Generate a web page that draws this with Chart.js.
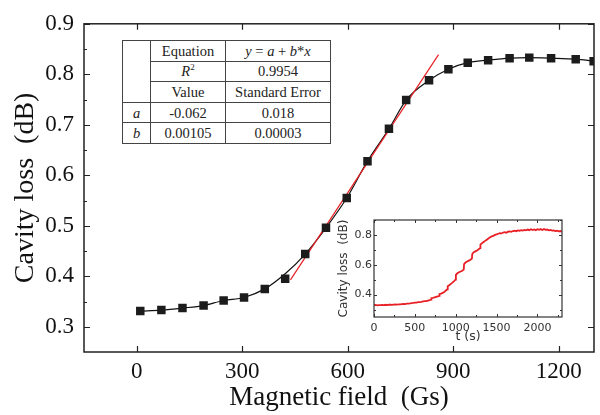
<!DOCTYPE html>
<html>
<head>
<meta charset="utf-8">
<script src="https://cdn.jsdelivr.net/npm/chart.js@4.4.1/dist/chart.umd.min.js"></script>
<style>
  body { margin: 0; background: #fff; }
  #wrap { position: relative; width: 600px; height: 415px; }
  #fit {
    position: absolute; left: 122px; top: 40px; width: 208px;
    border-collapse: collapse; background: #fff; table-layout: fixed;
    font-family: "Liberation Serif", "Times New Roman", serif; font-size: 14.5px; color: #222;
  }
  #fit td { border: 1px solid #444; height: 19.6px; padding: 0; text-align: center; line-height: 18px; white-space: nowrap; }
  #fit sup { font-size: 9px; line-height: 0; }
  #inset { position: absolute; left: 330px; top: 205px; width: 240px; height: 145px; }
</style>
</head>
<body>
<div id="wrap">
  <canvas id="main" width="600" height="415"></canvas>
  <table id="fit">
    <colgroup><col style="width:28px"><col style="width:75px"><col style="width:105px"></colgroup>
    <tr><td rowspan="3"></td><td>Equation</td><td><i>y</i> = <i>a</i> + <i>b</i>*<i>x</i></td></tr>
    <tr><td><i>R</i><sup>2</sup></td><td>0.9954</td></tr>
    <tr><td>Value</td><td>Standard Error</td></tr>
    <tr><td><i>a</i></td><td>-0.062</td><td>0.018</td></tr>
    <tr><td><i>b</i></td><td>0.00105</td><td>0.00003</td></tr>
  </table>
  <div id="inset"><canvas id="insetCanvas" width="240" height="145"></canvas></div>
</div>
<script>
// Dane: strata wnęki w funkcji pola magnetycznego
const fieldGs = [10, 70, 130, 190, 247, 305, 364, 422, 479, 538, 597, 656, 717, 766, 831, 886, 941, 999, 1060, 1116, 1178, 1248, 1299];
const lossDb = [0.331, 0.333, 0.337, 0.342, 0.352, 0.358, 0.375, 0.395, 0.444, 0.496, 0.555, 0.628, 0.692, 0.749, 0.788, 0.810, 0.823, 0.828, 0.832, 0.833, 0.832, 0.830, 0.826];
// Gładka krzywa (czarna) - prawie przez punkty
const curveDb = [0.331, 0.333, 0.337, 0.342, 0.352, 0.358, 0.375, 0.405, 0.444, 0.496, 0.555, 0.628, 0.692, 0.749, 0.788, 0.810, 0.823, 0.828, 0.832, 0.833, 0.832, 0.830, 0.826];
// Dopasowanie liniowe (czerwone)
const fitGs = [437, 858];
const fitDb = [0.393, 0.839];

const fieldTicks = [0, 300, 600, 900, 1200];
const lossTicks = [0.3, 0.4, 0.5, 0.6, 0.7, 0.8, 0.9];
const lossMinorTicks = [0.35, 0.45, 0.55, 0.65, 0.75, 0.85];

// Wstawka: przebieg czasowy
const insetTime = [0, 20, 40, 60, 80, 100, 120, 140, 160, 180, 200, 220, 240, 260, 280, 300, 320, 340, 360, 380,
  400, 420, 440, 460, 480, 500, 520, 540, 560, 580, 600, 620, 640, 660, 680, 698, 702, 720, 740, 760,
  780, 798, 802, 820, 840, 860, 880, 898, 902, 920, 940, 960, 980, 998, 1002, 1020, 1040, 1060, 1080, 1098,
  1102, 1120, 1140, 1160, 1180, 1198, 1202, 1220, 1240, 1260, 1280, 1298, 1302, 1320, 1340, 1360, 1380, 1400, 1420, 1440,
  1460, 1480, 1500, 1520, 1540, 1560, 1580, 1600, 1620, 1640, 1660, 1680, 1700, 1720, 1740, 1760, 1780, 1800, 1820, 1840,
  1860, 1880, 1900, 1920, 1940, 1960, 1980, 2000, 2020, 2040, 2060, 2080, 2100, 2120, 2140, 2160, 2180, 2200, 2220, 2240,
  2260, 2280, 2300];
const insetLoss = [0.329, 0.331, 0.328, 0.330, 0.329, 0.331, 0.330, 0.332, 0.330, 0.332, 0.333, 0.331, 0.333, 0.334, 0.333, 0.335, 0.334, 0.336, 0.337, 0.336,
  0.339, 0.340, 0.341, 0.343, 0.344, 0.346, 0.346, 0.349, 0.350, 0.351, 0.354, 0.356, 0.357, 0.360, 0.363, 0.366, 0.376, 0.378, 0.381, 0.385,
  0.388, 0.392, 0.404, 0.407, 0.412, 0.418, 0.428, 0.436, 0.456, 0.463, 0.472, 0.480, 0.490, 0.500, 0.532, 0.543, 0.550, 0.555, 0.560, 0.568,
  0.604, 0.615, 0.622, 0.628, 0.634, 0.642, 0.672, 0.684, 0.690, 0.696, 0.704, 0.712, 0.735, 0.745, 0.752, 0.760, 0.768, 0.776, 0.784, 0.790,
  0.794, 0.800, 0.804, 0.808, 0.812, 0.810, 0.816, 0.818, 0.815, 0.822, 0.824, 0.821, 0.826, 0.828, 0.825, 0.830, 0.828, 0.832, 0.829, 0.834,
  0.831, 0.836, 0.832, 0.838, 0.833, 0.837, 0.832, 0.838, 0.834, 0.839, 0.833, 0.840, 0.834, 0.836, 0.831, 0.833, 0.829, 0.830, 0.826, 0.828,
  0.824, 0.826, 0.822];

const timeTicks = [0, 500, 1000, 1500, 2000];
const timeMinorTicks = [250, 750, 1250, 1750, 2250];
const insetLossTicks = [0.4, 0.6, 0.8];
const insetLossMinor = [0.3, 0.5, 0.7, 0.9];

const RED = 'rgb(232, 32, 38)';

Chart.defaults.font.family = "'Liberation Serif', 'Times New Roman', serif";
Chart.defaults.color = '#111';

function toXY(xs, ys) {
    return xs.map((x, i) => ({ x, y: ys[i] }));
}

function fixTicks(values) {
    return scale => { scale.ticks = values.map(v => ({ value: v })); };
}

// Ramka z kreskami skierowanymi do środka
function frameTicks(cfg) {
    return {
        id: 'frameTicks',
        afterDatasetsDraw(chart) {
            const { ctx, chartArea: a, scales: { x, y } } = chart;
            ctx.save();
            ctx.strokeStyle = cfg.color;
            ctx.lineWidth = cfg.tickWidth;
            ctx.beginPath();
            const xt = (vals, len) => vals.forEach(v => {
                const px = Math.round(x.getPixelForValue(v)) + 0.5;
                ctx.moveTo(px, a.bottom); ctx.lineTo(px, a.bottom - len);
                ctx.moveTo(px, a.top); ctx.lineTo(px, a.top + len);
            });
            const yt = (vals, len, right) => vals.forEach(v => {
                const py = Math.round(y.getPixelForValue(v)) + 0.5;
                ctx.moveTo(a.left, py); ctx.lineTo(a.left + len, py);
                if (right) { ctx.moveTo(a.right, py); ctx.lineTo(a.right - right, py); }
            });
            xt(cfg.xMajor, cfg.major);
            xt(cfg.xMinor, cfg.minor);
            yt(cfg.yMajor, cfg.major, cfg.major);
            yt(cfg.yMinor, cfg.minor, cfg.rightMinor ? cfg.minor : 0);
            ctx.stroke();
            ctx.lineWidth = cfg.frameWidth;
            ctx.strokeRect(a.left, a.top, a.right - a.left, a.bottom - a.top);
            ctx.restore();
        }
    };
}

// --- WYKRES GŁÓWNY ---
new Chart(document.getElementById('main'), {
    type: 'scatter',
    data: {
        datasets: [
            {
                data: toXY(fieldGs, lossDb),
                pointStyle: 'rect',
                pointRadius: 6,
                backgroundColor: '#1c1c1c',
                borderColor: '#1c1c1c',
                borderWidth: 0,
                showLine: false,
                order: 1
            },
            {
                data: toXY(fitGs, fitDb),
                showLine: true,
                pointRadius: 0,
                borderColor: RED,
                borderWidth: 1.2,
                order: 2
            },
            {
                data: toXY(fieldGs, curveDb),
                showLine: true,
                pointRadius: 0,
                borderColor: '#111',
                borderWidth: 1.2,
                cubicInterpolationMode: 'monotone',
                order: 3
            }
        ]
    },
    options: {
        responsive: false,
        animation: false,
        devicePixelRatio: 1,
        layout: { padding: { top: 16, right: 2, left: 0, bottom: 0 } },
        plugins: { legend: { display: false }, tooltip: { enabled: false } },
        scales: {
            x: {
                type: 'linear', min: -150, max: 1300,
                afterBuildTicks: fixTicks(fieldTicks),
                afterFit: s => { s.height = 63; },
                grid: { display: false, drawTicks: false },
                border: { display: false },
                ticks: { padding: 6, font: { size: 23 }, color: '#111', callback: v => String(v) },
                title: { display: true, text: 'Magnetic field  (Gs)', font: { size: 27, lineHeight: 1 }, padding: { bottom: 4 }, color: '#111' }
            },
            y: {
                type: 'linear', min: 0.25, max: 0.9,
                afterBuildTicks: fixTicks(lossTicks),
                afterFit: s => { s.width = 84; },
                grid: { display: false, drawTicks: false },
                border: { display: false },
                ticks: { padding: 10, font: { size: 23 }, color: '#111', callback: v => v.toFixed(1) },
                title: { display: true, text: 'Cavity loss  (dB)', font: { size: 28, lineHeight: 1 }, padding: { top: 12 }, color: '#111' }
            }
        }
    },
    plugins: [frameTicks({
        color: '#222', tickWidth: 1.2, frameWidth: 1.5, major: 6, minor: 3,
        xMajor: fieldTicks, xMinor: [], yMajor: lossTicks, yMinor: lossMinorTicks, rightMinor: false
    })]
});

// --- WSTAWKA ---
new Chart(document.getElementById('insetCanvas'), {
    type: 'scatter',
    data: {
        datasets: [{
            data: toXY(insetTime, insetLoss),
            showLine: true,
            pointRadius: 0,
            borderColor: RED,
            borderWidth: 1.8,
            tension: 0
        }]
    },
    options: {
        responsive: false,
        animation: false,
        devicePixelRatio: 1,
        layout: { padding: { top: 15, right: 8, left: 0, bottom: 0 } },
        plugins: { legend: { display: false }, tooltip: { enabled: false } },
        scales: {
            x: {
                type: 'linear', min: 0, max: 2300,
                afterBuildTicks: fixTicks(timeTicks),
                afterFit: s => { s.height = 33; },
                grid: { display: false, drawTicks: false },
                border: { display: false },
                ticks: { padding: 5, font: { family: "'DejaVu Sans', sans-serif", size: 11 }, color: '#333', callback: v => String(v) },
                title: { display: true, text: 't (s)', font: { family: "'DejaVu Sans', sans-serif", size: 12.5, lineHeight: 1 }, padding: { bottom: 7 }, color: '#333' }
            },
            y: {
                type: 'linear', min: 0.25, max: 0.9,
                afterBuildTicks: fixTicks(insetLossTicks),
                afterFit: s => { s.width = 44; },
                grid: { display: false, drawTicks: false },
                border: { display: false },
                ticks: { padding: 2, font: { family: "'DejaVu Sans', sans-serif", size: 11 }, color: '#333', callback: v => v.toFixed(1) },
                title: { display: true, text: 'Cavity loss  (dB)', font: { family: "'DejaVu Sans', sans-serif", size: 12, lineHeight: 1 }, padding: { top: 8 }, color: '#333' }
            }
        }
    },
    plugins: [frameTicks({
        color: '#333', tickWidth: 1, frameWidth: 1.2, major: 3, minor: 2,
        xMajor: timeTicks, xMinor: timeMinorTicks, yMajor: insetLossTicks, yMinor: insetLossMinor, rightMinor: true
    })]
});
</script>
</body>
</html>
